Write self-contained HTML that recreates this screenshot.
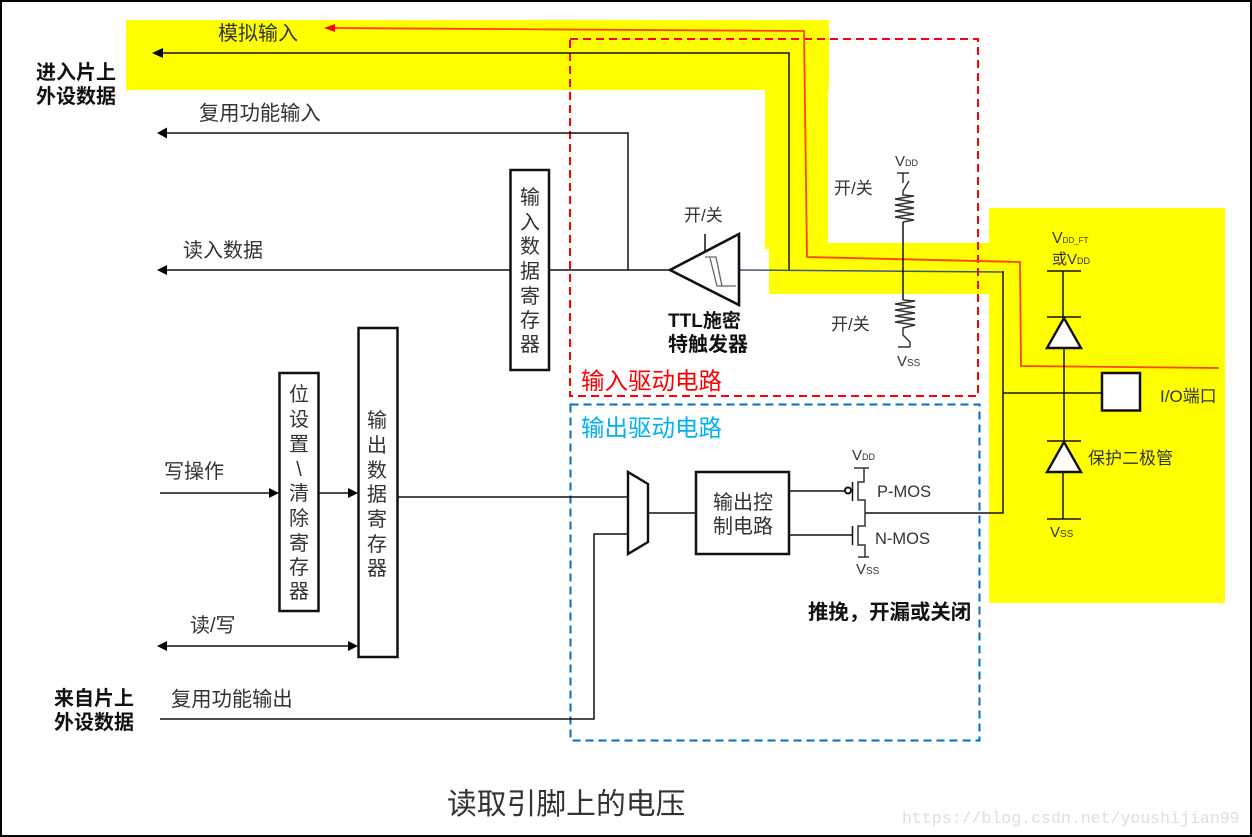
<!DOCTYPE html>
<html><head><meta charset="utf-8"><style>
html,body{margin:0;padding:0;background:#fff}
svg{display:block}
text{font-family:"Liberation Sans","Noto Sans CJK SC",sans-serif;fill:#333;font-size:20px}
.b{fill:#111;font-weight:700}
.s{font-size:17px}
.l{stroke:#111;stroke-width:1.5;fill:none}
.w{stroke:#333;stroke-width:1.5;fill:none}
</style></head><body>
<svg width="1252" height="837" viewBox="0 0 1252 837" xmlns="http://www.w3.org/2000/svg">
<rect x="1" y="1" width="1250" height="835" fill="#fff" stroke="#000" stroke-width="2"/>
<!-- yellow -->
<g fill="#ffff00">
<rect x="126" y="20" width="703" height="70"/>
<rect x="765" y="90" width="63" height="159"/>
<rect x="769" y="243" width="221" height="51"/>
<rect x="989" y="208" width="236" height="395"/>
</g>
<!-- dashed boxes -->
<rect x="570" y="39" width="408" height="357" fill="none" stroke="#ff0000" stroke-width="2" stroke-dasharray="8 5"/>
<rect x="570.500" y="404.500" width="409" height="336" fill="none" stroke="#0070c0" stroke-width="2" stroke-dasharray="8 5"/>
<!-- input lines -->
<path class="l" d="M160 53H789V270"/>
<polygon points="152,53 163,48 163,58" fill="#000"/>
<path class="l" d="M165 133H628V270"/>
<polygon points="157,133 167,127.500 167,138.500" fill="#000"/>
<path class="l" d="M165 270H510M550 270H670"/>
<polygon points="157,270 167,265 167,275" fill="#000"/>
<path d="M740 270L1003 272" stroke="#555" stroke-width="1.500" fill="none"/>
<path d="M740 270L1003 272" stroke="#3355aa" stroke-width="0.700" fill="none"/>
<path class="l" d="M1003 271V513H865"/>
<path class="l" d="M1003 393H1102"/>
<!-- red -->
<path d="M334 28L804 31L807 257L1020 262L1021 366L1219 368" fill="none" stroke="#ff4400" stroke-width="1.800"/>
<polygon points="324,28 335,24 335,32" fill="#ff0000"/>
<!-- registers -->
<rect x="510.500" y="170" width="38.500" height="200" fill="#fff" stroke="#111" stroke-width="2.500"/>
<rect x="358.500" y="328" width="39" height="329" fill="#fff" stroke="#111" stroke-width="2.500"/>
<rect x="279.500" y="373" width="39" height="238" fill="#fff" stroke="#111" stroke-width="2.500"/>
<!-- schmitt -->
<polygon points="670,270 739,234 739,305" fill="#fff" stroke="#111" stroke-width="2.600"/>
<path d="M705 234V251" class="l"/>
<path d="M705 257H716L722 286H736M710 258L717 286H722" stroke="#666" stroke-width="1.300" fill="none"/>
<!-- pull up/down -->
<path class="w" d="M903 173V183M909 181L903 191V195L914 196L895 199L914 202L895 205L914 208L895 211L914 214L895 217L914 220L903 222"/>
<path class="w" d="M897 173H909M898 347H910"/>
<path d="M903 222V300" stroke="#111" stroke-width="1.500"/>
<path class="w" d="M903 300L915 301L895 304L915 307L895 310L915 313L895 316L915 319L895 322L915 325L903 328V335L910 342V347"/>
<!-- diode column -->
<path class="l" d="M1047 271H1081M1063 271V318M1047 317H1081M1064 348V441M1047 441H1081M1063 473V519M1047 519H1081"/>
<polygon points="1064,318 1047,348 1081,348" fill="#fff" stroke="#111" stroke-width="2.400"/>
<polygon points="1064,442 1047,472 1081,472" fill="#fff" stroke="#111" stroke-width="2.400"/>
<rect x="1102" y="373" width="38" height="37.500" fill="#fff" stroke="#111" stroke-width="2.500"/>
<!-- output -->
<path class="l" d="M398 497H627"/>
<path class="l" d="M160 719H594V534H627"/>
<polygon points="628,472 648,484 648,542 628,554" fill="#fff" stroke="#111" stroke-width="2.400"/>
<path class="l" d="M648 513H696"/>
<rect x="696" y="472" width="93" height="82" fill="#fff" stroke="#111" stroke-width="2.500"/>
<path class="l" d="M789 491H845M789 535H852"/>
<circle cx="848" cy="490.500" r="3" fill="#fff" stroke="#111" stroke-width="2"/>
<path class="w" d="M854 468H869M864 468V482H858V500H865V526H858V545H865V557M858 557H869"/>
<path class="l" d="M852.500 482V501M852.500 526V545"/>
<!-- left arrows -->
<path class="l" d="M160 493H270M319 493H350"/>
<polygon points="279,493 269,488 269,498" fill="#000"/>
<polygon points="358,493 348,488 348,498" fill="#000"/>
<path class="l" d="M165 646H350"/>
<polygon points="157,646 167,641 167,651" fill="#000"/>
<polygon points="358,646 348,641 348,651" fill="#000"/>
<!-- text -->
<text x="218" y="40">模拟输入</text>
<text class="b" x="36" y="79">进入片上</text>
<text class="b" x="36" y="103">外设数据</text>
<text x="199" y="120" style="font-size:20.300px">复用功能输入</text>
<text x="183" y="257">读入数据</text>
<g text-anchor="middle">
<text x="530" y="204">输</text><text x="530" y="229">入</text><text x="530" y="253">数</text><text x="530" y="278">据</text><text x="530" y="303">寄</text><text x="530" y="327">存</text><text x="530" y="351">器</text>
<text x="299" y="401">位</text><text x="299" y="426">设</text><text x="299" y="451">置</text><text x="299" y="476">\</text><text x="299" y="500">清</text><text x="299" y="525">除</text><text x="299" y="550">寄</text><text x="299" y="574">存</text><text x="299" y="598">器</text>
<text x="377" y="427">输</text><text x="377" y="452">出</text><text x="377" y="477">数</text><text x="377" y="501">据</text><text x="377" y="526">寄</text><text x="377" y="551">存</text><text x="377" y="575">器</text>
</g>
<text x="164" y="478">写操作</text>
<text x="190" y="632">读/写</text>
<text class="b" x="54" y="705">来自片上</text>
<text class="b" x="54" y="729">外设数据</text>
<text x="171" y="706" style="font-size:20.300px">复用功能输出</text>
<text class="s" x="684" y="221">开/关</text>
<text class="s" x="834" y="194">开/关</text>
<text class="s" x="831" y="330">开/关</text>
<text class="b" x="668" y="327" style="font-size:19px">TTL施密</text>
<text class="b" x="668" y="351">特触发器</text>
<text x="581" y="389" style="fill:#ff0000;font-size:23.500px">输入驱动电路</text>
<text x="581" y="436" style="fill:#00b0f0;font-size:23.500px">输出驱动电路</text>
<text x="713" y="509">输出控</text>
<text x="713" y="533">制电路</text>
<text class="b" x="808" y="619" style="font-size:20.400px">推挽，开漏或关闭</text>
<text x="877" y="497" style="font-size:16.500px">P-MOS</text>
<text x="875" y="544" style="font-size:16.500px">N-MOS</text>
<text x="895" y="166" style="font-size:15px">V<tspan style="font-size:9px">DD</tspan></text>
<text x="897" y="366" style="font-size:15px">V<tspan style="font-size:10px">SS</tspan></text>
<text x="852" y="460" style="font-size:15px">V<tspan style="font-size:9px">DD</tspan></text>
<text x="856" y="574" style="font-size:15px">V<tspan style="font-size:10px">SS</tspan></text>
<text x="1052" y="243" style="font-size:16px">V<tspan style="font-size:8px">DD_FT</tspan></text>
<text x="1052" y="264" style="font-size:15px">或V<tspan style="font-size:9px">DD</tspan></text>
<text x="1050" y="537" style="font-size:15px">V<tspan style="font-size:10px">SS</tspan></text>
<text x="1160" y="402" style="font-size:17px">I/O端口</text>
<text x="1088" y="464" style="font-size:17px">保护二极管</text>
<text x="447" y="814" style="font-size:29.800px">读取引脚上的电压</text>
<text x="902" y="823" style="font-family:'Liberation Mono',monospace;font-size:16.560px;fill:#e0e0d8">https://blog.csdn.net/youshijian99</text>
</svg>
</body></html>
